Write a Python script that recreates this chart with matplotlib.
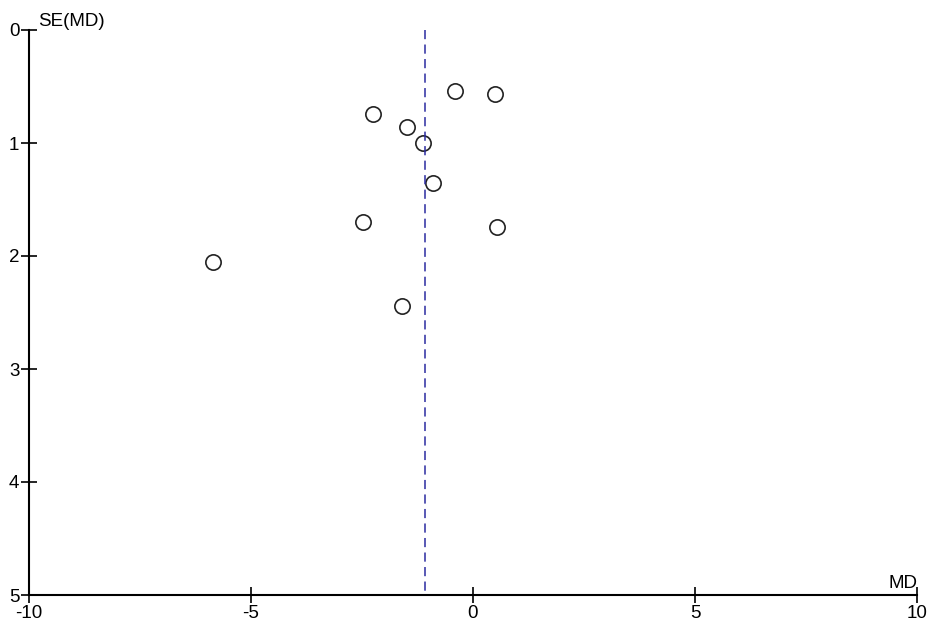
import numpy as np
import matplotlib.pyplot as plt

plt.rcParams['font.family'] = ['Liberation Sans', 'DejaVu Sans']
plt.rcParams['axes.unicode_minus'] = False

# study mean differences and their standard errors
md = [-0.41, 0.50, -2.26, -1.49, -1.13, -0.91, -2.47, 0.53, -1.61, -5.85]
se = [0.54, 0.57, 0.745, 0.86, 1.00, 1.355, 1.70, 1.74, 2.44, 2.05]
pooled_md = -1.08

x_ticks = [-10, -5, 0, 5, 10]
y_ticks = [0, 1, 2, 3, 4, 5]

fig = plt.figure(figsize=(9.33, 6.37), dpi=100)
ax = fig.add_axes([29 / 933, 42 / 637, 888 / 933, 565 / 637])

ax.plot(md, se, 'o', markersize=11, markerfacecolor='none',
        markeredgecolor='#222222', markeredgewidth=1.2)
ax.plot([pooled_md, pooled_md], [0, 5], '--', color='#2b2ba0',
        linewidth=1.1, dashes=(6, 3.5))

ax.set_xlim(-10, 10)
ax.set_ylim(5, 0)
ax.set_xticks(x_ticks)
ax.set_yticks(y_ticks)
ax.spines['top'].set_visible(False)
ax.spines['right'].set_visible(False)
for s in ['left', 'bottom']:
    ax.spines[s].set_linewidth(1.5)
ax.tick_params(direction='inout', length=12, width=1.2, labelsize=13.5, pad=1)

ax.text(0.01, 1.0, 'SE(MD)', transform=ax.transAxes, fontsize=13.5,
        ha='left', va='bottom')
ax.text(1.0, 0.005, 'MD', transform=ax.transAxes, fontsize=13.5,
        ha='right', va='bottom')

fig.savefig('out.png', dpi=100)
